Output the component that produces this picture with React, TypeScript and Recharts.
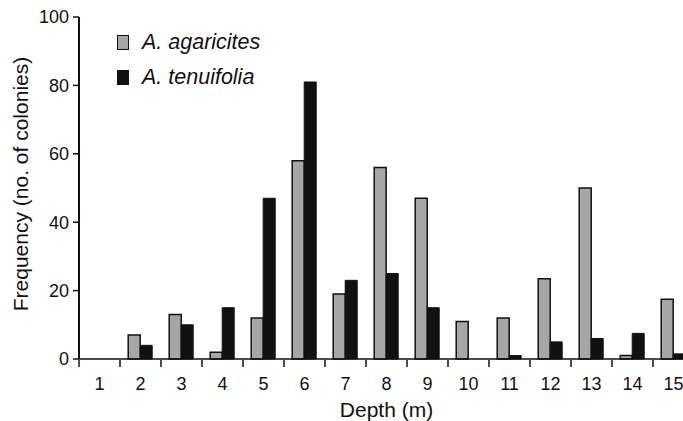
import { Bar, BarChart, XAxis, YAxis } from "recharts";

const depths = ["1", "2", "3", "4", "5", "6", "7", "8", "9", "10", "11", "12", "13", "14", "15"];
const agaricites = [0, 7, 13, 2, 12, 58, 19, 56, 47, 11, 12, 23.5, 50, 1, 17.5];
const tenuifolia = [0, 4, 10, 15, 47, 81, 23, 25, 15, 0, 1, 5, 6, 7.5, 1.5];
const yTicks = [0, 20, 40, 60, 80, 100];

const CHART_W = 700;
const CHART_H = 421;
const LEFT = 79;
const RIGHT = 6;
const HALF_BAND = (CHART_W - LEFT - RIGHT) / depths.length / 2;

const FONT = "'Liberation Sans', Arial, sans-serif";

const data = depths.map((d, i) => ({
  depth: d,
  agaricites: agaricites[i],
  tenuifolia: tenuifolia[i],
}));

const series = [
  { name: "A. agaricites", fill: "#a6a6a6" },
  { name: "A. tenuifolia", fill: "#111" },
];

const DepthTick = (props: any) => {
  const { x, y, payload } = props;
  return (
    <g>
      <line x1={x - HALF_BAND} y1={y - 1} x2={x - HALF_BAND} y2={y + 6} stroke="#111" strokeWidth={1.5} />
      <text x={x} y={y + 29} textAnchor="middle" fontSize={18} fill="#111" fontFamily={FONT}>
        {payload.value}
      </text>
    </g>
  );
};

const FreqLabel = (props: any) => {
  const vb = props.viewBox || { x: 0, y: 17, width: LEFT, height: 342 };
  const cx = 20;
  const cy = vb.y + vb.height / 2 - 4;
  return (
    <text
      x={cx}
      y={cy}
      transform={`rotate(-90, ${cx}, ${cy})`}
      textAnchor="middle"
      dominantBaseline="central"
      fontSize={21}
      fill="#111"
      fontFamily={FONT}
    >
      Frequency (no. of colonies)
    </text>
  );
};

export default function App() {
  return (
    <div style={{ position: "fixed", left: 0, top: 0, width: 683, height: 421, overflow: "hidden", background: "#fff" }}>
      <BarChart
        width={CHART_W}
        height={CHART_H}
        data={data}
        margin={{ top: 17, right: RIGHT, bottom: 12, left: 0 }}
        barCategoryGap="20%"
        barGap={0}
      >
        <XAxis
          dataKey="depth"
          height={50}
          tickLine={false}
          tickSize={0}
          tick={<DepthTick />}
          axisLine={{ stroke: "#111", strokeWidth: 1.5 }}
          interval={0}
          label={{ value: "Depth (m)", position: "insideBottom", offset: -8, fontSize: 21, fill: "#111", fontFamily: FONT }}
        />
        <YAxis
          width={LEFT}
          domain={[0, 100]}
          ticks={yTicks}
          tickSize={6}
          tickMargin={4}
          tick={{ fontSize: 18, fill: "#111", fontFamily: FONT }}
          tickLine={{ stroke: "#111", strokeWidth: 1.5 }}
          axisLine={{ stroke: "#111", strokeWidth: 2 }}
          label={{ content: <FreqLabel /> }}
        />
        <Bar dataKey="agaricites" fill="#a6a6a6" stroke="#111" strokeWidth={1.5} isAnimationActive={false} />
        <Bar dataKey="tenuifolia" fill="#111" stroke="#111" strokeWidth={1} isAnimationActive={false} />
      </BarChart>
      <div
        style={{
          position: "absolute",
          left: 117,
          top: 25,
          fontFamily: FONT,
          fontSize: 21.5,
          fontStyle: "italic",
          color: "#111",
        }}
      >
        {series.map((s) => (
          <div key={s.name} style={{ display: "flex", alignItems: "center", height: 35 }}>
            <span
              style={{
                display: "inline-block",
                width: 10,
                height: 13,
                background: s.fill,
                border: "1px solid #111",
                marginRight: 13,
              }}
            />
            {s.name}
          </div>
        ))}
      </div>
    </div>
  );
}
